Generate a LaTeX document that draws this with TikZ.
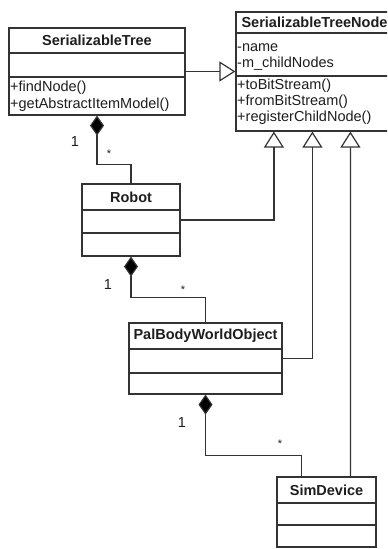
\documentclass[tikz,border=0pt]{standalone}
\usepackage{fontspec}
\setmainfont{Liberation Sans}
\usetikzlibrary{arrows.meta}
\definecolor{linec}{HTML}{333333}
\definecolor{txtc}{HTML}{1E1E1E}
\newcommand\umlfont{\fontsize{14.5bp}{17bp}\selectfont}
\newcommand\umlstarfont{\fontsize{11bp}{12bp}\selectfont}
\begin{document}
\begin{tikzpicture}[x=1bp,y=-1bp,
  clsbox/.style={draw=linec, line width=1.2bp, inner sep=0},
  sepline/.style={draw=linec, line width=1.2bp},
  titletxt/.style={inner sep=0, text=txtc, font=\umlfont\bfseries},
  member/.style={anchor=west, inner sep=0, text=txtc, font=\umlfont},
  mult/.style={inner sep=0, text=txtc, font=\umlfont},
  star/.style={inner sep=0, text=txtc, font=\umlstarfont},
  inh/.style={draw=linec, line width=1.2bp, -{Triangle[open, length=16bp, width=20bp, fill=white]}},
  comp/.style={draw=linec, line width=1.2bp, {Diamond[length=20bp, width=14bp, fill=black]}-}
]
\useasboundingbox (0,0) rectangle (387,549);
\clip (0,0) rectangle (387,549);
\fill[white] (0,0) rectangle (387,549);

% class boxes
\node[clsbox, minimum width=176bp, minimum height=87bp] (st) at (97,71.5) {};
\node[clsbox, minimum width=157bp, minimum height=119bp] (stn) at (314.5,71.5) {};
\node[clsbox, minimum width=98bp, minimum height=72bp] (robot) at (131,220) {};
\node[clsbox, minimum width=153bp, minimum height=71bp] (pbwo) at (205.5,358.5) {};
\node[clsbox, minimum width=99bp, minimum height=70bp] (sim) at (326.5,512) {};

% separators
\draw[sepline] (st.west |- 0,53) -- (st.east |- 0,53);
\draw[sepline] (st.west |- 0,77) -- (st.east |- 0,77);
\draw[sepline] (stn.west |- 0,33) -- (stn.east |- 0,33);
\draw[sepline] (stn.west |- 0,76) -- (stn.east |- 0,76);
\draw[sepline] (robot.west |- 0,210) -- (robot.east |- 0,210);
\draw[sepline] (robot.west |- 0,233) -- (robot.east |- 0,233);
\draw[sepline] (pbwo.west |- 0,349) -- (pbwo.east |- 0,349);
\draw[sepline] (pbwo.west |- 0,373) -- (pbwo.east |- 0,373);
\draw[sepline] (sim.west |- 0,503) -- (sim.east |- 0,503);
\draw[sepline] (sim.west |- 0,525) -- (sim.east |- 0,525);

% titles
\node[titletxt] (st-title) at (97,40.5) {SerializableTree};
\node[titletxt] (stn-title) at (314.5,22.5) {SerializableTreeNode};
\node[titletxt] (robot-title) at (131,197) {Robot};
\node[titletxt] (pbwo-title) at (205.5,336) {PalBodyWorldObject};
\node[titletxt] (sim-title) at (326.5,490) {SimDevice};

% members
\node[member] (st-m1) at (10,88) {+findNode()};
\node[member] (st-m2) at (10,105) {+getAbstractItemModel()};
\node[member] (stn-a1) at (237,48) {-name};
\node[member] (stn-a2) at (237,64) {-m\_childNodes};
\node[member] (stn-m1) at (237,86) {+toBitStream()};
\node[member] (stn-m2) at (237,102) {+fromBitStream()};
\node[member] (stn-m3) at (237,118) {+registerChildNode()};

% generalizations
\draw[inh] (st.east) -- (stn.west);
\draw[inh] (robot.east) -| ([xshift=38.5bp]stn.south west);
\draw[inh] (pbwo.east) -| ([xshift=77bp]stn.south west);
\draw[inh] ([xshift=74bp]sim.north west) -- ([xshift=115bp]stn.south west);

% compositions
\draw[comp] (st.south) -- ++(0,49) -| (robot.north);
\draw[comp] (robot.south) -- ++(0,41) -| (pbwo.north);
\draw[comp] (pbwo.south) -- ++(0,61) -| ([xshift=25bp]sim.north west);

% multiplicities
\node[mult] (m1a) at (75,142) {1};
\node[star] (m1b) at (109,154) {*};
\node[mult] (m2a) at (108,285) {1};
\node[star] (m2b) at (183,290) {*};
\node[mult] (m3a) at (182,423) {1};
\node[star] (m3b) at (280,444) {*};
\end{tikzpicture}
\end{document}
